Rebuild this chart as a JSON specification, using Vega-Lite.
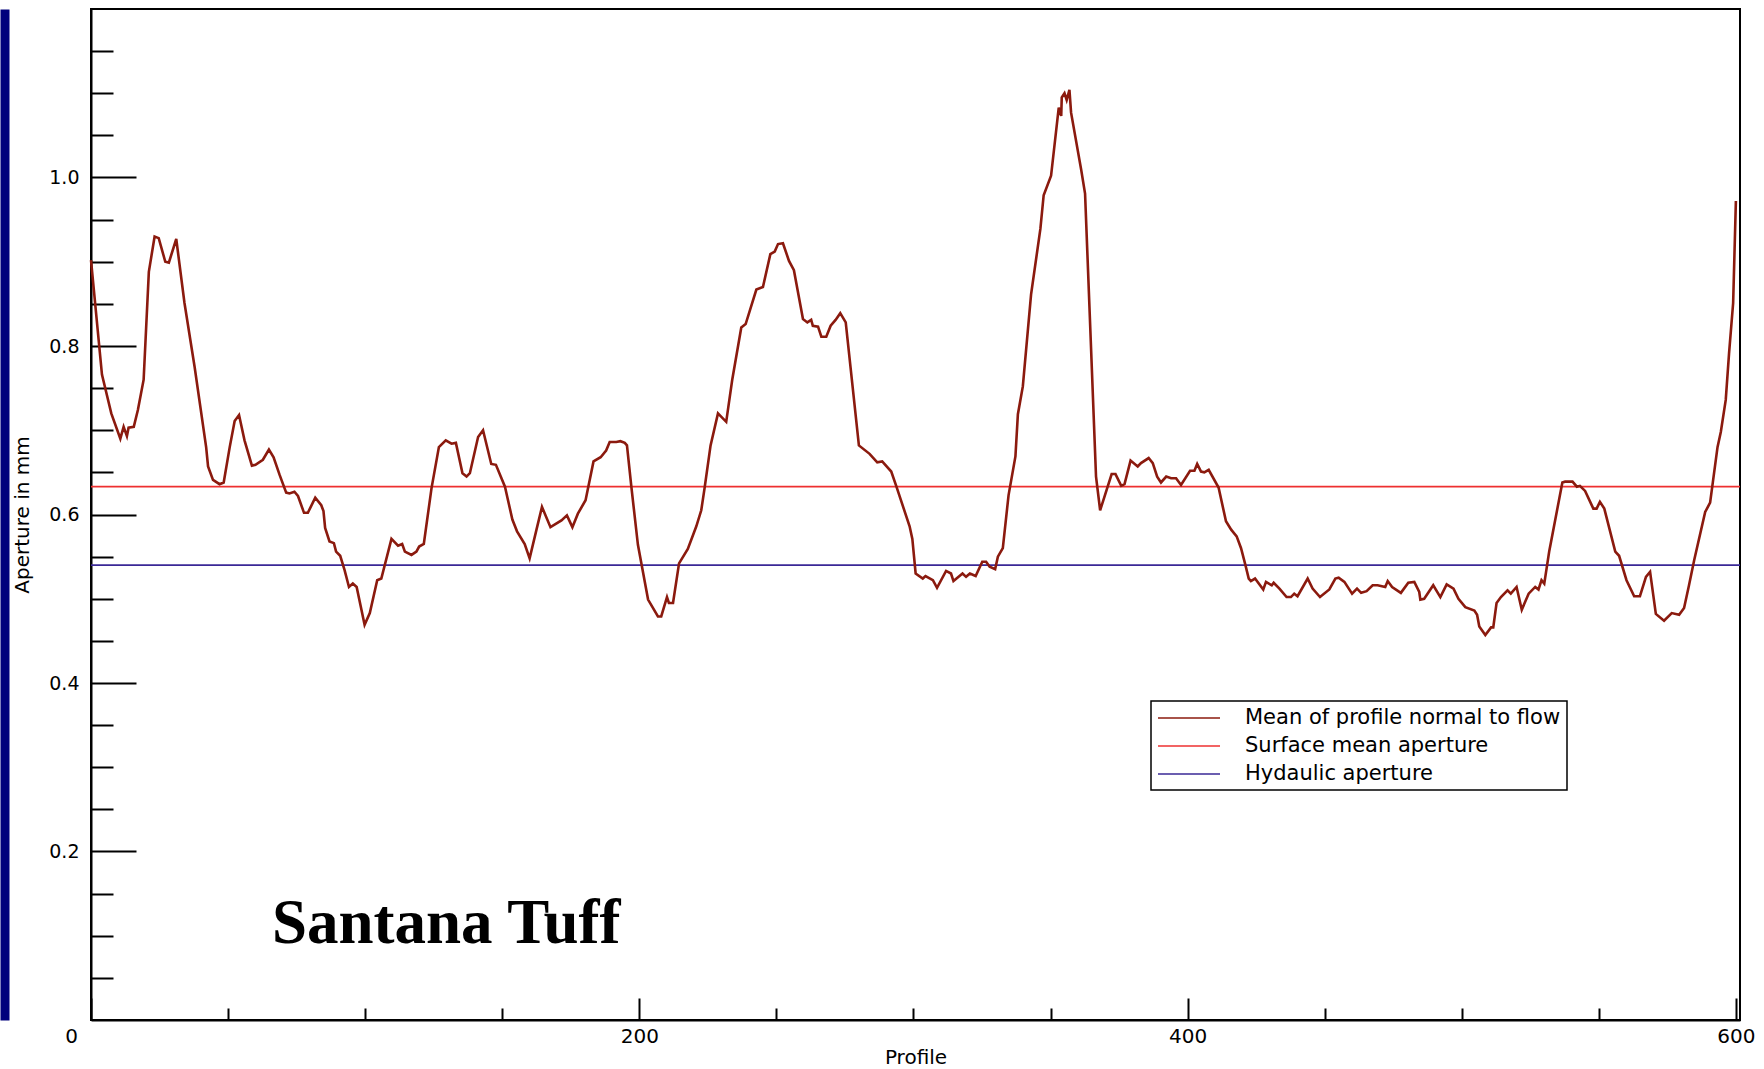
{
  "$schema": "https://vega.github.io/schema/vega-lite/v6.json",
  "width": 1649,
  "height": 1011,
  "autosize": {"type": "none"},
  "padding": {"left": 91, "top": 9, "right": 24, "bottom": 49},
  "background": "white",
  "config": {
    "view": {"stroke": "black", "strokeWidth": 2},
    "font": "DejaVu Sans",
    "legend": {
      "orient": "none",
      "legendX": 1060,
      "legendY": 692,
      "title": null,
      "symbolType": "M-1,0H5.2",
      "symbolSize": 400,
      "symbolStrokeWidth": 1.6,
      "labelFont": "DejaVu Sans",
      "labelFontSize": 21,
      "labelColor": "black",
      "labelLimit": 800,
      "labelOffset": 66,
      "padding": 6,
      "rowPadding": 7,
      "strokeColor": "black",
      "strokeWidth": 1.5,
      "fillColor": "white"
    }
  },
  "datasets": {
    "profile": [
      {"x": 0, "v": 0.902}, {"x": 4.0, "v": 0.766}, {"x": 7.4, "v": 0.720}, {"x": 10.7, "v": 0.690},
      {"x": 11.9, "v": 0.704}, {"x": 13.1, "v": 0.693}, {"x": 13.7, "v": 0.703}, {"x": 15.6, "v": 0.704},
      {"x": 17.1, "v": 0.724}, {"x": 19.2, "v": 0.760}, {"x": 21.1, "v": 0.888}, {"x": 23.2, "v": 0.930},
      {"x": 24.7, "v": 0.928}, {"x": 27.1, "v": 0.900}, {"x": 28.4, "v": 0.899}, {"x": 31.1, "v": 0.927},
      {"x": 34.1, "v": 0.851}, {"x": 37.8, "v": 0.775}, {"x": 42.0, "v": 0.680}, {"x": 42.7, "v": 0.657},
      {"x": 44.5, "v": 0.641}, {"x": 46.9, "v": 0.636}, {"x": 48.4, "v": 0.638}, {"x": 50.6, "v": 0.680},
      {"x": 52.4, "v": 0.711}, {"x": 54.0, "v": 0.718}, {"x": 56.0, "v": 0.688}, {"x": 58.7, "v": 0.658},
      {"x": 60.0, "v": 0.659}, {"x": 62.7, "v": 0.665}, {"x": 64.9, "v": 0.677}, {"x": 66.6, "v": 0.668},
      {"x": 68.8, "v": 0.647}, {"x": 71.2, "v": 0.626}, {"x": 72.4, "v": 0.625}, {"x": 74.2, "v": 0.627},
      {"x": 75.5, "v": 0.622}, {"x": 77.7, "v": 0.602}, {"x": 79.1, "v": 0.602}, {"x": 81.8, "v": 0.620},
      {"x": 84.0, "v": 0.611}, {"x": 84.8, "v": 0.604}, {"x": 85.4, "v": 0.584}, {"x": 87.0, "v": 0.568},
      {"x": 88.6, "v": 0.566}, {"x": 89.4, "v": 0.556}, {"x": 90.9, "v": 0.551}, {"x": 92.5, "v": 0.534},
      {"x": 94.1, "v": 0.514}, {"x": 95.5, "v": 0.518}, {"x": 96.9, "v": 0.514}, {"x": 99.8, "v": 0.469},
      {"x": 101.7, "v": 0.483}, {"x": 104.4, "v": 0.522}, {"x": 105.9, "v": 0.524}, {"x": 109.6, "v": 0.571},
      {"x": 112.0, "v": 0.563}, {"x": 113.5, "v": 0.565}, {"x": 114.5, "v": 0.556}, {"x": 116.9, "v": 0.552},
      {"x": 118.7, "v": 0.556}, {"x": 119.7, "v": 0.562}, {"x": 121.4, "v": 0.565}, {"x": 124.2, "v": 0.631},
      {"x": 126.9, "v": 0.680}, {"x": 129.4, "v": 0.688}, {"x": 131.5, "v": 0.684}, {"x": 133.1, "v": 0.685},
      {"x": 135.5, "v": 0.649}, {"x": 137.0, "v": 0.645}, {"x": 138.2, "v": 0.649}, {"x": 141.2, "v": 0.692},
      {"x": 143.0, "v": 0.700}, {"x": 146.0, "v": 0.660}, {"x": 147.7, "v": 0.659}, {"x": 151.0, "v": 0.633},
      {"x": 153.7, "v": 0.594}, {"x": 155.4, "v": 0.580}, {"x": 158.2, "v": 0.565}, {"x": 160.0, "v": 0.548},
      {"x": 162.5, "v": 0.582}, {"x": 164.5, "v": 0.609}, {"x": 167.6, "v": 0.585}, {"x": 171.6, "v": 0.593},
      {"x": 173.6, "v": 0.599}, {"x": 175.6, "v": 0.585}, {"x": 177.6, "v": 0.601}, {"x": 180.4, "v": 0.617},
      {"x": 183.3, "v": 0.663}, {"x": 185.9, "v": 0.668}, {"x": 187.9, "v": 0.676}, {"x": 189.2, "v": 0.686},
      {"x": 191.6, "v": 0.686}, {"x": 193.1, "v": 0.687}, {"x": 194.7, "v": 0.685}, {"x": 195.5, "v": 0.682},
      {"x": 197.1, "v": 0.633}, {"x": 199.5, "v": 0.564}, {"x": 203.2, "v": 0.499}, {"x": 206.8, "v": 0.479},
      {"x": 208.0, "v": 0.479}, {"x": 210.1, "v": 0.502}, {"x": 210.8, "v": 0.495}, {"x": 212.3, "v": 0.495},
      {"x": 214.5, "v": 0.542}, {"x": 217.7, "v": 0.559}, {"x": 220.8, "v": 0.586}, {"x": 222.6, "v": 0.605},
      {"x": 223.8, "v": 0.631}, {"x": 226.0, "v": 0.682}, {"x": 228.7, "v": 0.720}, {"x": 231.7, "v": 0.710},
      {"x": 233.9, "v": 0.760}, {"x": 237.2, "v": 0.822}, {"x": 238.8, "v": 0.826}, {"x": 242.7, "v": 0.867},
      {"x": 245.1, "v": 0.870}, {"x": 247.8, "v": 0.909}, {"x": 249.4, "v": 0.912}, {"x": 250.6, "v": 0.921},
      {"x": 252.4, "v": 0.922}, {"x": 254.6, "v": 0.901}, {"x": 256.4, "v": 0.890}, {"x": 259.7, "v": 0.832},
      {"x": 261.3, "v": 0.828}, {"x": 262.7, "v": 0.831}, {"x": 263.3, "v": 0.824}, {"x": 265.2, "v": 0.823},
      {"x": 266.4, "v": 0.811}, {"x": 268.2, "v": 0.811}, {"x": 269.8, "v": 0.824}, {"x": 271.6, "v": 0.831},
      {"x": 273.3, "v": 0.839}, {"x": 275.3, "v": 0.828}, {"x": 280.1, "v": 0.682}, {"x": 284.0, "v": 0.672},
      {"x": 286.8, "v": 0.662}, {"x": 288.6, "v": 0.663}, {"x": 291.9, "v": 0.651}, {"x": 293.8, "v": 0.633},
      {"x": 298.6, "v": 0.586}, {"x": 299.6, "v": 0.571}, {"x": 300.8, "v": 0.530}, {"x": 303.4, "v": 0.524},
      {"x": 304.4, "v": 0.527}, {"x": 307.1, "v": 0.522}, {"x": 308.6, "v": 0.513}, {"x": 311.9, "v": 0.533},
      {"x": 313.7, "v": 0.530}, {"x": 314.6, "v": 0.521}, {"x": 317.9, "v": 0.530}, {"x": 319.2, "v": 0.526},
      {"x": 320.6, "v": 0.530}, {"x": 322.7, "v": 0.527}, {"x": 325.1, "v": 0.544}, {"x": 326.5, "v": 0.544},
      {"x": 327.8, "v": 0.538}, {"x": 329.8, "v": 0.535}, {"x": 330.8, "v": 0.550}, {"x": 332.6, "v": 0.560},
      {"x": 334.7, "v": 0.623}, {"x": 337.2, "v": 0.669}, {"x": 338.1, "v": 0.719}, {"x": 339.9, "v": 0.752},
      {"x": 342.9, "v": 0.861}, {"x": 346.3, "v": 0.939}, {"x": 347.5, "v": 0.979}, {"x": 350.2, "v": 1.002},
      {"x": 353.0, "v": 1.083}, {"x": 353.9, "v": 1.073}, {"x": 354.1, "v": 1.095}, {"x": 355.1, "v": 1.100},
      {"x": 355.9, "v": 1.092}, {"x": 356.9, "v": 1.104}, {"x": 357.5, "v": 1.077}, {"x": 361.2, "v": 1.009},
      {"x": 362.6, "v": 0.981}, {"x": 366.6, "v": 0.645}, {"x": 368.1, "v": 0.605}, {"x": 372.3, "v": 0.648},
      {"x": 373.7, "v": 0.648}, {"x": 375.8, "v": 0.634}, {"x": 377.0, "v": 0.636}, {"x": 379.2, "v": 0.664},
      {"x": 381.8, "v": 0.657}, {"x": 383.0, "v": 0.661}, {"x": 385.8, "v": 0.667}, {"x": 387.3, "v": 0.661},
      {"x": 388.9, "v": 0.645}, {"x": 390.3, "v": 0.638}, {"x": 392.2, "v": 0.645}, {"x": 394.0, "v": 0.643},
      {"x": 395.8, "v": 0.643}, {"x": 397.6, "v": 0.635}, {"x": 400.9, "v": 0.652}, {"x": 402.5, "v": 0.652},
      {"x": 403.5, "v": 0.660}, {"x": 404.9, "v": 0.651}, {"x": 406.1, "v": 0.650}, {"x": 407.7, "v": 0.653},
      {"x": 411.3, "v": 0.632}, {"x": 414.0, "v": 0.592}, {"x": 415.9, "v": 0.582}, {"x": 417.9, "v": 0.574},
      {"x": 419.5, "v": 0.560}, {"x": 421.1, "v": 0.540}, {"x": 422.3, "v": 0.524}, {"x": 423.1, "v": 0.521},
      {"x": 424.6, "v": 0.524}, {"x": 427.6, "v": 0.511}, {"x": 428.6, "v": 0.520}, {"x": 430.7, "v": 0.516},
      {"x": 431.4, "v": 0.519}, {"x": 433.5, "v": 0.512}, {"x": 436.1, "v": 0.502}, {"x": 437.7, "v": 0.502},
      {"x": 438.9, "v": 0.506}, {"x": 440.1, "v": 0.503}, {"x": 443.8, "v": 0.524}, {"x": 445.6, "v": 0.512},
      {"x": 448.3, "v": 0.502}, {"x": 451.7, "v": 0.511}, {"x": 453.9, "v": 0.524}, {"x": 455.1, "v": 0.525},
      {"x": 457.2, "v": 0.520}, {"x": 460.0, "v": 0.506}, {"x": 461.8, "v": 0.512}, {"x": 463.3, "v": 0.507},
      {"x": 465.3, "v": 0.509}, {"x": 467.5, "v": 0.516}, {"x": 469.3, "v": 0.516}, {"x": 472.1, "v": 0.514},
      {"x": 473.0, "v": 0.521}, {"x": 474.6, "v": 0.514}, {"x": 477.8, "v": 0.507}, {"x": 480.5, "v": 0.519},
      {"x": 482.7, "v": 0.520}, {"x": 484.5, "v": 0.508}, {"x": 484.9, "v": 0.499}, {"x": 486.3, "v": 0.500},
      {"x": 489.6, "v": 0.516}, {"x": 492.2, "v": 0.502}, {"x": 494.5, "v": 0.517}, {"x": 497.0, "v": 0.512},
      {"x": 498.8, "v": 0.500}, {"x": 501.3, "v": 0.490}, {"x": 504.6, "v": 0.486}, {"x": 505.6, "v": 0.481},
      {"x": 506.4, "v": 0.467}, {"x": 508.6, "v": 0.457}, {"x": 510.7, "v": 0.466}, {"x": 511.5, "v": 0.466},
      {"x": 512.7, "v": 0.495}, {"x": 514.3, "v": 0.502}, {"x": 516.7, "v": 0.510}, {"x": 517.9, "v": 0.506},
      {"x": 520.0, "v": 0.514}, {"x": 521.9, "v": 0.487}, {"x": 524.4, "v": 0.506}, {"x": 526.8, "v": 0.514},
      {"x": 528.0, "v": 0.511}, {"x": 529.1, "v": 0.522}, {"x": 530.1, "v": 0.518}, {"x": 531.9, "v": 0.556},
      {"x": 536.7, "v": 0.638}, {"x": 537.7, "v": 0.639}, {"x": 540.4, "v": 0.639}, {"x": 542.0, "v": 0.633},
      {"x": 543.1, "v": 0.634}, {"x": 545.0, "v": 0.628}, {"x": 548.0, "v": 0.607}, {"x": 549.2, "v": 0.607},
      {"x": 550.4, "v": 0.615}, {"x": 552.0, "v": 0.607}, {"x": 556.0, "v": 0.556}, {"x": 557.4, "v": 0.551},
      {"x": 560.1, "v": 0.522}, {"x": 562.9, "v": 0.503}, {"x": 565.0, "v": 0.503}, {"x": 567.2, "v": 0.526},
      {"x": 568.7, "v": 0.532}, {"x": 570.8, "v": 0.482}, {"x": 573.8, "v": 0.474}, {"x": 576.6, "v": 0.483},
      {"x": 579.3, "v": 0.481}, {"x": 581.1, "v": 0.489}, {"x": 582.9, "v": 0.516}, {"x": 584.8, "v": 0.546},
      {"x": 588.8, "v": 0.603}, {"x": 590.6, "v": 0.614}, {"x": 593.3, "v": 0.680}, {"x": 594.5, "v": 0.698},
      {"x": 596.3, "v": 0.736}, {"x": 597.5, "v": 0.791}, {"x": 599.0, "v": 0.851}, {"x": 600.0, "v": 0.972}
    ],
    "refs": [
      {"series": "Surface mean aperture", "v": 0.633},
      {"series": "Hydaulic aperture", "v": 0.540}
    ],
    "label": [
      {"text": "Santana Tuff", "x": 66, "v": 0.0917}
    ]
  },
  "resolve": {"axis": {"y": "independent"}},
  "layer": [
    {
      "data": {"name": "refs"},
      "mark": {"type": "rule", "strokeWidth": 1.8},
      "encoding": {
        "y": {"field": "v", "type": "quantitative", "axis": null, "scale": {"domain": [0, 1.2], "nice": false, "zero": true}},
        "color": {
          "field": "series",
          "type": "nominal",
          "scale": {
            "domain": ["Mean of profile normal to flow", "Surface mean aperture", "Hydaulic aperture"],
            "range": ["#8b1a0e", "#ee3030", "#3a2896"]
          }
        }
      }
    },
    {
      "data": {"name": "profile"},
      "mark": {"type": "line", "strokeWidth": 2.6, "interpolate": "linear"},
      "encoding": {
        "x": {
          "field": "x",
          "type": "quantitative",
          "scale": {"domain": [0, 601.5], "nice": false, "zero": false},
          "axis": {
            "values": [0, 50, 100, 150, 200, 250, 300, 350, 400, 450, 500, 550, 600],
            "labelExpr": "datum.value % 200 === 0 ? datum.label : ''",
            "tickSize": {"condition": {"test": "datum.value % 200 === 0", "value": -22}, "value": -12},
            "labelOffset": {"condition": {"test": "datum.value === 0", "value": -20}, "value": 0},
            "tickColor": "black",
            "tickWidth": 2,
            "domainColor": "black",
            "domainWidth": 2,
            "grid": false,
            "labelFont": "DejaVu Sans",
            "labelFontSize": 20,
            "labelColor": "black",
            "labelPadding": 28,
            "labelFlush": false,
            "labelOverlap": false,
            "title": "Profile",
            "titleFont": "DejaVu Sans",
            "titleFontSize": 20,
            "titleFontWeight": "normal",
            "titleColor": "black",
            "titleBaseline": "top",
            "titleY": 27
          }
        },
        "y": {
          "field": "v",
          "type": "quantitative",
          "scale": {"domain": [0, 1.2], "nice": false, "zero": true},
          "axis": {
            "values": [0.05, 0.1, 0.15, 0.2, 0.25, 0.3, 0.35, 0.4, 0.45, 0.5, 0.55, 0.6, 0.65, 0.7, 0.75, 0.8, 0.85, 0.9, 0.95, 1, 1.05, 1.1, 1.15],
            "labelExpr": "indexof([0.2, 0.4, 0.6, 0.8, 1], datum.value) >= 0 ? format(datum.value, '.1f') : ''",
            "tickSize": {"condition": {"test": "indexof([0.2, 0.4, 0.6, 0.8, 1], datum.value) >= 0", "value": -45}, "value": -22},
            "tickColor": "black",
            "tickWidth": 2,
            "domainColor": "black",
            "domainWidth": 2,
            "grid": false,
            "orient": "left",
            "labelFont": "DejaVu Sans",
            "labelFontSize": 19,
            "labelColor": "black",
            "labelPadding": 57,
            "labelFlush": false,
            "labelOverlap": false,
            "title": "Aperture in mm",
            "titleFont": "DejaVu Sans",
            "titleFontSize": 20,
            "titleFontWeight": "normal",
            "titleColor": "black",
            "titlePadding": 16
          }
        },
        "color": {
          "datum": "Mean of profile normal to flow",
          "type": "nominal",
          "scale": {
            "domain": ["Mean of profile normal to flow", "Surface mean aperture", "Hydaulic aperture"],
            "range": ["#8b1a0e", "#ee3030", "#3a2896"]
          }
        }
      }
    },
    {
      "data": {"name": "label"},
      "mark": {"type": "text", "font": "Liberation Serif", "fontWeight": "bold", "fontSize": 63, "align": "left", "baseline": "alphabetic", "color": "black"},
      "encoding": {
        "x": {"field": "x", "type": "quantitative"},
        "y": {
          "field": "v",
          "type": "quantitative",
          "axis": {
            "orient": "left",
            "offset": 86.5,
            "domain": true,
            "domainColor": "#00007c",
            "domainWidth": 9,
            "ticks": false,
            "labels": false,
            "grid": false,
            "title": null
          }
        },
        "text": {"field": "text"}
      }
    }
  ]
}
